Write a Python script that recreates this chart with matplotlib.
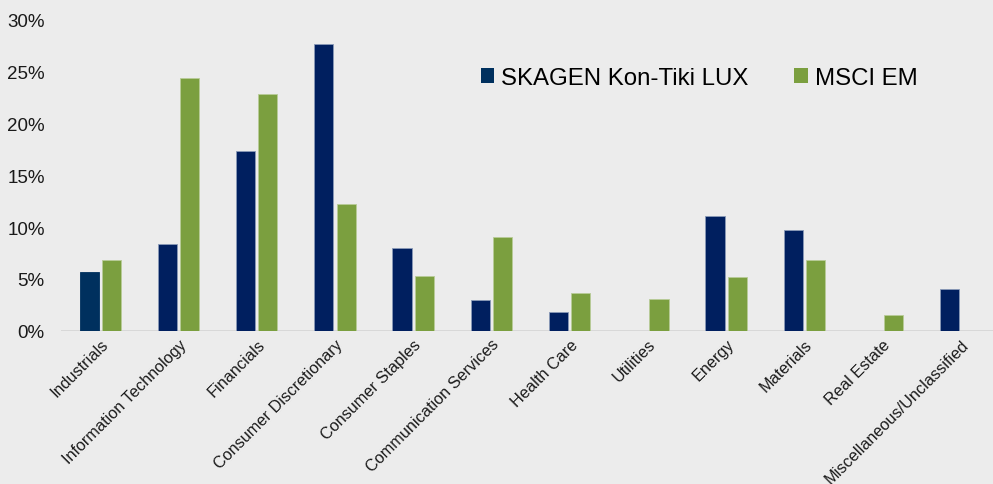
import matplotlib
matplotlib.use("Agg")
import matplotlib.pyplot as plt
import numpy as np
from matplotlib.ticker import FuncFormatter

categories = ["Industrials", "Information Technology", "Financials", "Consumer Discretionary",
              "Consumer Staples", "Communication Services", "Health Care", "Utilities",
              "Energy", "Materials", "Real Estate", "Miscellaneous/Unclassified"]
kontiki = [5.7, 8.4, 17.3, 27.7, 8.0, 3.0, 1.8, 0.0, 11.1, 9.7, 0.0, 4.0]
msci_em = [6.8, 24.4, 22.8, 12.2, 5.3, 9.0, 3.6, 3.1, 5.2, 6.8, 1.5, 0.0]
series_names = ["SKAGEN Kon-Tiki LUX", "MSCI EM"]

plt.rcParams['font.family'] = ['Liberation Sans', 'DejaVu Sans']
bg = "#ececec"
navy = "#001f5f"
green = "#7b9f3f"

fig = plt.figure(figsize=(9.93, 4.85), dpi=100, facecolor=bg)
ax = fig.add_axes([0.0618, 0.316, 0.9382, 0.641])
ax.set_facecolor(bg)

x = np.arange(len(categories))
w = 0.245
navy_colors = [navy] * len(categories)
navy_colors[0] = "#00305e"
b1 = ax.bar(x - 0.145, kontiki, w, color=navy_colors, edgecolor="#8a9ab8", linewidth=0.6,
            label=series_names[0], zorder=3)
b2 = ax.bar(x + 0.14, msci_em, w, color=green, edgecolor="#b8cc98", linewidth=0.6,
            label=series_names[1], zorder=3)
b1[0].set_color("#00305e")

ax.set_xlim(-0.5, 11.41)
ax.set_ylim(0, 30)
ax.set_yticks(np.arange(0, 31, 5))
ax.yaxis.set_major_formatter(FuncFormatter(lambda v, p: f"{int(v)}%"))
ax.tick_params(axis='y', length=0, pad=12, labelsize=13.5, labelcolor="#1a1a1a")
ax.tick_params(axis='x', length=0, pad=4)
ax.set_xticks(x)
ax.set_xticklabels(categories, rotation=45, ha='right', rotation_mode='anchor',
                   fontsize=11.7, color="#1a1a1a")
for s in ax.spines.values():
    s.set_visible(False)
ax.axhline(0, color="#d6d6d6", linewidth=2, zorder=2)

leg = ax.legend(loc='upper left', bbox_to_anchor=(0.44, 0.88), ncol=2, frameon=False,
                fontsize=17.3, handlelength=0.55, handleheight=0.55, handletextpad=0.3,
                columnspacing=1.9, borderaxespad=0)
for h in leg.legend_handles:
    h.set_edgecolor("none")

fig.savefig("out.png", dpi=100, facecolor=bg)
